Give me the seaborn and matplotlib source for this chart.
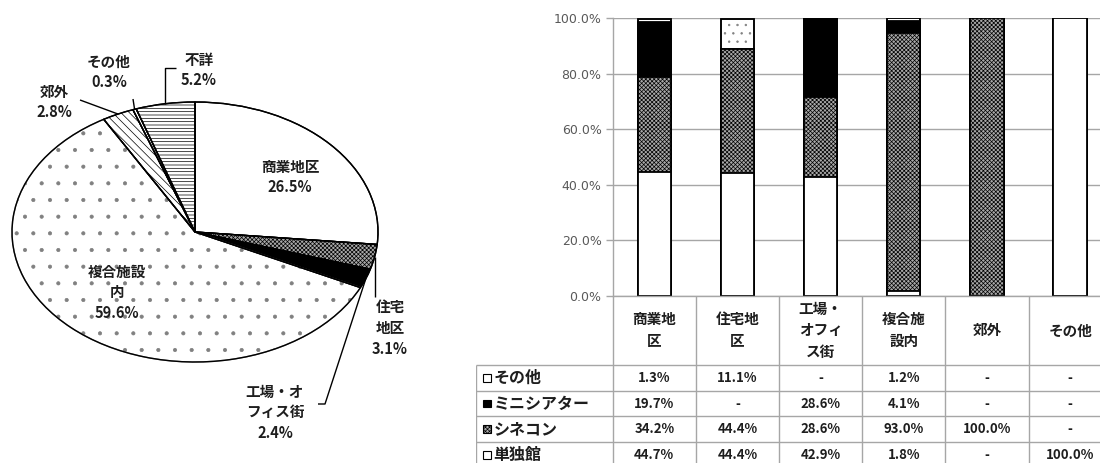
import numpy as np
import matplotlib
matplotlib.use("Agg")
import matplotlib.pyplot as plt
from matplotlib.patches import Rectangle
import seaborn as sns

# ---- data -------------------------------------------------------------
# Pie: screens by location (%)
pie_labels = ["商業地区", "住宅\n地区", "工場・オ\nフィス街", "複合施設\n内", "郊外", "その他", "不詳"]
pie_values = [26.5, 3.1, 2.4, 59.6, 2.8, 0.3, 5.2]

# Stacked bars: cinema type by location (%)
bar_categories = ["商業地区", "住宅地区", "工場・オフィス街", "複合施設内", "郊外", "その他"]
header_labels = ["商業地\n区", "住宅地\n区", "工場・\nオフィ\nス街", "複合施\n設内", "郊外", "その他"]
series_names = ["単独館", "シネコン", "ミニシアター", "その他"]
tandoku = [44.7, 44.4, 42.9, 1.8, 0.0, 100.0]
cinecon = [34.2, 44.4, 28.6, 93.0, 100.0, 0.0]
mini = [19.7, 0.0, 28.6, 4.1, 0.0, 0.0]
other = [1.3, 11.1, 0.0, 1.2, 0.0, 0.0]
y_ticks = [0, 20, 40, 60, 80, 100]

# ---- style ------------------------------------------------------------
sns.set_style("white")
plt.rcParams["font.family"] = ["Noto Sans CJK JP", "DejaVu Sans"]
plt.rcParams["hatch.linewidth"] = 0.5
TXT = "#1e1e1e"
GRID = "#a6a6a6"
CHECK = "#a8a8a8"
CHECK_HATCH = "xxxxxxxx"
DOT_EDGE = "#808080"

series_face = ["white", CHECK, "black", "white"]
series_hatch = [None, CHECK_HATCH, None, ".."]
series_edge = ["black", "black", "black", DOT_EDGE]

fig = plt.figure(figsize=(11, 4.63), dpi=100)
W, H_FIG = 1100, 463

# ---- pie (drawn as a circle, stretched horizontally) -------------------
CX, CY, RX, RY = 195, 232, 183, 130
ax_p = fig.add_axes([0, 0, 420 / W, 1])


def pp(x, y):
    return ((x - CX) / RX, (CY - y) / RY)


pie_colors = ["white", CHECK, "black", "white", "white", "white", "white"]
pie_hatch = [None, CHECK_HATCH, None, ".", "\\\\\\\\", None, "-----"]
wedges, _ = ax_p.pie(pie_values, startangle=90, counterclock=False,
                     colors=pie_colors, hatch=pie_hatch,
                     wedgeprops=dict(edgecolor="black", linewidth=1))
# softer dot texture for the large wedge, then crisp outlines on top
wedges[3].set_edgecolor(DOT_EDGE)
ax_p.pie(pie_values, startangle=90, counterclock=False,
         wedgeprops=dict(fill=False, edgecolor="black", linewidth=1))
ax_p.set_aspect("auto")
ax_p.set_xlim(-CX / RX, (420 - CX) / RX)
ax_p.set_ylim(-(H_FIG - CY) / RY, CY / RY)
ax_p.axis("off")


def edge_point(w):
    t = np.deg2rad((w.theta1 + w.theta2) / 2)
    return np.cos(t), np.sin(t)


lk = dict(color="black", lw=1, solid_capstyle="butt")
# 住宅地区
ex, ey = edge_point(wedges[1])
ax_p.plot([ex, ex], [ey, pp(0, 297)[1]], **lk)
# 工場・オフィス街
ex, ey = edge_point(wedges[2])
p1, p2 = pp(325, 404), pp(318, 404)
ax_p.plot([ex, p1[0], p2[0]], [ey, p1[1], p2[1]], **lk)
# 郊外
ex, ey = edge_point(wedges[4])
p1 = pp(80, 100)
ax_p.plot([p1[0], ex], [p1[1], ey], **lk)
# その他
ex, ey = edge_point(wedges[5])
p1 = pp(133, 99)
ax_p.plot([ex, p1[0]], [ey, p1[1]], **lk)
# 不詳
ex, ey = edge_point(wedges[6])
p1 = pp(176, 68)
ax_p.plot([ex, ex, p1[0]], [ey, p1[1], p1[1]], **lk)

label_pos = [(290, 177), (390, 328), (275, 412), (117, 292), (54, 102), (109, 72), (199, 70)]
for lab, val, (lx, ly) in zip(pie_labels, pie_values, label_pos):
    x, y = pp(lx, ly)
    ax_p.text(x, y, f"{lab}\n{val:.1f}%", ha="center", va="center",
              fontsize=10.5, fontweight="bold", color=TXT, linespacing=1.35)

# ---- stacked bars -----------------------------------------------------
PL, PR, PT, PB = 612.7, 1111.7, 18.3, 295.7
ax_b = fig.add_axes([PL / W, (H_FIG - PB) / H_FIG, (PR - PL) / W, (PB - PT) / H_FIG])

stack = np.array([tandoku, cinecon, mini, other])
tops = stack.cumsum(axis=0)
bar_kw = dict(x=bar_categories, order=bar_categories, width=0.4,
              saturation=1, errorbar=None, ax=ax_b)
for i in reversed(range(len(series_names))):
    sns.barplot(y=tops[i], color=series_face[i], hatch=series_hatch[i],
                edgecolor=series_edge[i], linewidth=1.3, **bar_kw)
    if series_edge[i] != "black":
        sns.barplot(y=tops[i], fill=False, edgecolor="black", linewidth=1.3, **bar_kw)

ax_b.set_xlim(-0.5, 5.5)
ax_b.set_ylim(0, 100)
ax_b.set_xticks([])
ax_b.set_xlabel("")
ax_b.set_ylabel("")
ax_b.set_yticks(y_ticks)
ax_b.set_yticklabels([f"{v:.1f}%" for v in y_ticks], family="DejaVu Sans")
ax_b.yaxis.grid(True, color=GRID, lw=1)
ax_b.set_axisbelow(True)
sns.despine(ax=ax_b, top=True, right=True)
for s in ("left", "bottom"):
    ax_b.spines[s].set_color(GRID)
    ax_b.spines[s].set_linewidth(1)
ax_b.tick_params(axis="y", left=True, length=5, width=1, color=GRID,
                 labelsize=9, labelcolor="#595959", pad=3)

# ---- data table under the bars ----------------------------------------
COLW = (PR - PL) / len(bar_categories)
TL = 476
ROWH = 25.7
HDR = 69.3 / ROWH
nrows = len(series_names)
x_left = -0.5 - (PL - TL) / COLW
tab_h = HDR * ROWH + nrows * ROWH
ax_t = fig.add_axes([TL / W, (H_FIG - (PB + tab_h)) / H_FIG, (PR - TL) / W, tab_h / H_FIG])
ax_t.set_xlim(x_left, 5.5)
ax_t.set_ylim(HDR + nrows, 0)
ax_t.axis("off")

tl = dict(color=GRID, lw=1, solid_capstyle="butt")
for r in range(nrows + 1):
    ax_t.plot([x_left, 5.5], [HDR + r, HDR + r], **tl)
ax_t.plot([x_left, x_left], [HDR, HDR + nrows], **tl)
for k in range(len(bar_categories) + 1):
    ax_t.plot([-0.5 + k, -0.5 + k], [0, HDR + nrows], **tl)

for i, lab in enumerate(header_labels):
    ax_t.text(i, HDR / 2, lab, ha="center", va="center", fontsize=10.5,
              fontweight="bold", color=TXT, linespacing=1.45)

key_w = 7.5 / COLW
key_h = 7.5 / ROWH
for r, si in enumerate(reversed(range(nrows))):
    yc = HDR + r + 0.5
    kx = x_left + 7 / COLW
    ax_t.add_patch(Rectangle((kx, yc - key_h / 2), key_w, key_h,
                             facecolor=series_face[si],
                             hatch=series_hatch[si] if si == 1 else None,
                             edgecolor="black", lw=0.8))
    ax_t.text(kx + key_w + 3 / COLW, yc, series_names[si], ha="left", va="center",
              fontsize=11.5, fontweight="bold", color=TXT)
    for i, v in enumerate(stack[si]):
        ax_t.text(i, yc, f"{v:.1f}%" if v else "-", ha="center", va="center",
                  fontsize=9.5, fontweight="bold", color=TXT)

fig.savefig("out.png", dpi=100)
